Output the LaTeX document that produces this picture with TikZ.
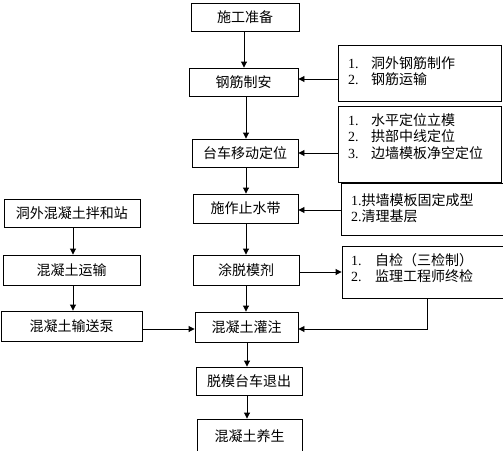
\documentclass[tikz,border=0pt]{standalone}
\usepackage{fontspec}
\setmainfont{Liberation Serif}
\newfontfamily\cjk{Noto Sans CJK SC}
\usetikzlibrary{arrows.meta}
\newcommand\numlbl[2][23pt]{\makebox[#1][l]{\rmfamily #2}}
\begin{document}
\begin{tikzpicture}[x=1pt,y=-1pt,
  box/.style={draw, line width=0.9pt, inner sep=0pt, font=\cjk\fontsize{14}{15.5}\selectfont},
  txt/.style={inner sep=0pt, anchor=base west, font=\cjk\fontsize{14}{15.5}\selectfont},
  arr/.style={line width=0.9pt, -{Triangle[length=6pt,width=6pt]}},
  con/.style={line width=0.9pt}]
\fill[white] (0,0) rectangle (503,450);
\useasboundingbox (0,0) rectangle (503,450);
% main column
\node[box, minimum width=108pt, minimum height=28pt] (A) at (245,17) {施工准备};
\node[box, minimum width=109pt, minimum height=28pt] (B) at (243.5,82) {钢筋制安};
\node[box, minimum width=106pt, minimum height=28pt] (C) at (245,153) {台车移动定位};
\node[box, minimum width=105pt, minimum height=29pt] (D) at (245.5,208.5) {施作止水带};
\node[box, minimum width=106pt, minimum height=30pt] (E) at (246,270) {涂脱模剂};
\node[box, minimum width=103pt, minimum height=30pt] (F) at (246.5,327) {混凝土灌注};
\node[box, minimum width=106pt, minimum height=28pt] (G) at (249,381) {脱模台车退出};
\node[box, minimum width=105pt, minimum height=36pt, text depth=0pt] (H) at (249.5,437) {\raisebox{3pt}{混凝土养生}};
% left column
\node[box, minimum width=136pt, minimum height=28pt] (L1) at (72,213) {洞外混凝土拌和站};
\node[box, minimum width=137pt, minimum height=30pt] (L2) at (71.5,270) {混凝土运输};
\node[box, minimum width=141pt, minimum height=30pt] (L3) at (71.5,326) {混凝土输送泵};
% right column
\node[box, minimum width=163pt, minimum height=56pt] (R1) at (419.5,73) {};
\node[box, minimum width=163pt, minimum height=76pt] (R2) at (419.5,144) {};
\node[box, minimum width=169pt, minimum height=52pt] (R3) at (425.5,209) {};
\node[box, minimum width=168pt, minimum height=52pt] (R4) at (426,272) {};
\node[txt] (T1) at (348,68) {\begin{tabular}[t]{@{}l@{}}\numlbl{1.}洞外钢筋制作\\ \numlbl{2.}钢筋运输\end{tabular}};
\node[txt] (T2) at (348,125) {\begin{tabular}[t]{@{}l@{}}\numlbl{1.}水平定位立模\\ \numlbl{2.}拱部中线定位\\ \numlbl{3.}边墙模板净空定位\end{tabular}};
\node[txt] (T3) at (351,205) {\begin{tabular}[t]{@{}l@{}}{\rmfamily 1.}拱墙模板固定成型\\ {\rmfamily 2.}清理基层\end{tabular}};
\node[txt] (T4) at (351,265) {\begin{tabular}[t]{@{}l@{}}\numlbl[24pt]{1.}自检（三检制）\\ \numlbl[24pt]{2.}监理工程师终检\end{tabular}};
% vertical arrows main
\draw[arr] (A.south -| 244,0) -- (B.north -| 244,0);
\draw[arr] (B.south -| 246,0) -- (C.north -| 246,0);
\draw[arr] (C.south -| 246,0) -- (D.north -| 246,0);
\draw[arr] (D.south -| 246,0) -- (E.north -| 246,0);
\draw[arr] (E.south -| 246,0) -- (F.north -| 246,0);
\draw[arr] (F.south -| 247,0) -- (G.north -| 247,0);
\draw[arr] (G.south -| 247,0) -- (H.north -| 247,0);
% left arrows
\draw[arr] (L1.south -| 73,0) -- (L2.north -| 73,0);
\draw[arr] (L2.south -| 73,0) -- (L3.north -| 73,0);
\draw[arr] (L3.east |- 0,329) -- (F.west |- 0,329);
% right connectors
\draw[arr] (R1.west |- 0,79) -- (B.east |- 0,79);
\draw[arr] (R2.west |- C.east) -- (C.east);
\draw[arr] (R3.west |- 0,210) -- (D.east |- 0,210);
\draw[arr] (E.east |- 0,272) -- (R4.west |- 0,272);
\coordinate (k) at (427,329);
\draw[arr] (R4.south -| k) -- (k) -- (F.east |- k);
\end{tikzpicture}
\end{document}
